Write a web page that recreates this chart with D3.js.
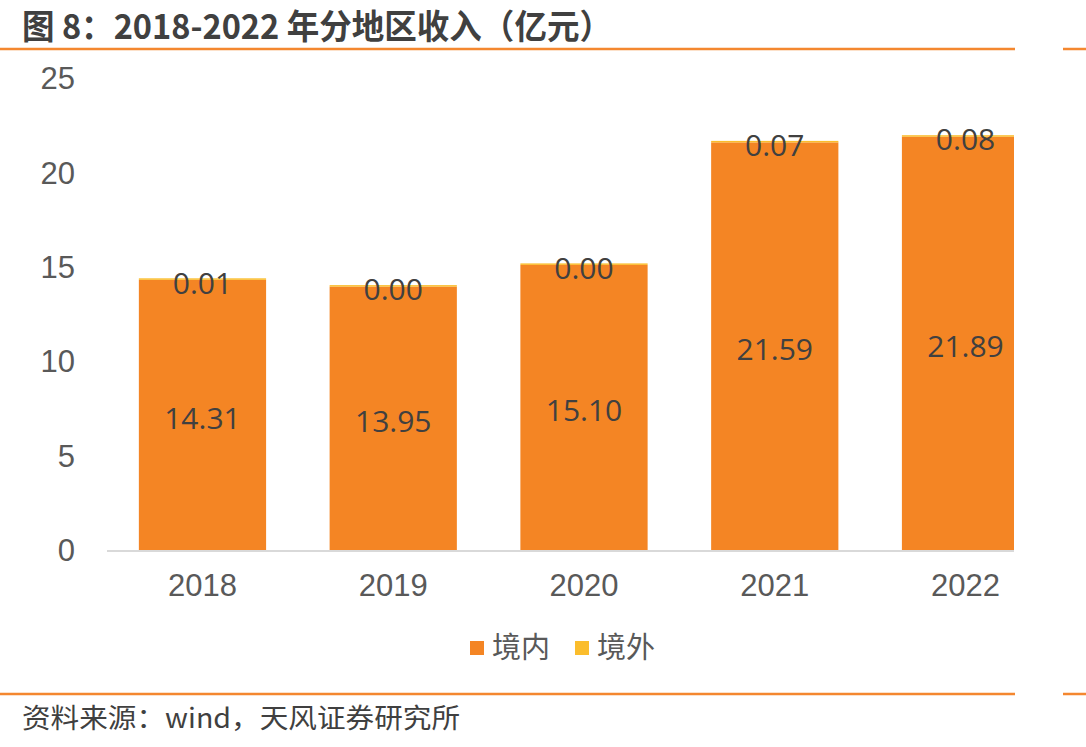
<!DOCTYPE html>
<html>
<head>
<meta charset="utf-8">
<script src="https://cdn.jsdelivr.net/npm/d3@7"></script>
<style>
  body { margin: 0; background: #fff; }
  svg { display: block; }
</style>
</head>
<body>
<div id="chart"></div>
<script>
// data
var years = ["2018", "2019", "2020", "2021", "2022"];
var domestic = [14.31, 13.95, 15.10, 21.59, 21.89];
var overseas = [0.01, 0.00, 0.00, 0.07, 0.08];
var seriesNames = ["境内", "境外"];
var yTicks = [0, 5, 10, 15, 20, 25];

var width = 1086, height = 747;
var colors = ["#F48524", "#FBBD2C"];
var cjk = "'Noto Sans CJK SC', sans-serif";

var svg = d3.select("#chart").append("svg")
  .attr("width", width).attr("height", height);

// title + orange rules
svg.append("text")
  .attr("x", 22).attr("y", 39)
  .attr("textLength", 590).attr("lengthAdjust", "spacingAndGlyphs")
  .style("font-family", cjk).style("font-size", "34px").style("font-weight", "bold")
  .style("fill", "#404040")
  .text("图 8：2018-2022 年分地区收入（亿元）");

[49, 694].forEach(function (y) {
  svg.append("line").attr("x1", 0).attr("x2", 1015).attr("y1", y).attr("y2", y)
    .style("stroke", "#F4872F").style("stroke-width", 2.5);
  svg.append("line").attr("x1", 1063).attr("x2", 1086).attr("y1", y).attr("y2", y)
    .style("stroke", "#F4872F").style("stroke-width", 2.5);
});

svg.append("text")
  .attr("x", 22).attr("y", 728)
  .attr("textLength", 438).attr("lengthAdjust", "spacingAndGlyphs")
  .style("font-family", cjk).style("font-size", "27px")
  .style("fill", "#404040")
  .text("资料来源：wind，天风证券研究所");

// scales
var x = d3.scaleBand().domain(years).range([107, 1061]).paddingInner(0.333).paddingOuter(0.167);
var y = d3.scaleLinear().domain([0, 25]).range([550, 78]);

svg.append("clipPath").attr("id", "clip")
  .append("rect").attr("x", 0).attr("y", 0).attr("width", 1014).attr("height", height);

// y axis labels
svg.append("g").selectAll("text").data(yTicks).enter().append("text")
  .attr("x", 75).attr("y", function (d) { return y(d); })
  .attr("dy", "0.36em").attr("text-anchor", "end")
  .style("font-family", "'Liberation Sans', Arial, sans-serif").style("font-size", "31px")
  .style("fill", "#595959")
  .text(function (d) { return d; });

var stackData = years.map(function (yr, i) {
  return { year: yr, "境内": domestic[i], "境外": overseas[i] };
});
var stacked = d3.stack().keys(seriesNames)(stackData);

var plot = svg.append("g").attr("clip-path", "url(#clip)");

plot.selectAll(".series").data(stacked).enter().append("g")
  .attr("class", "series")
  .style("fill", function (d, i) { return colors[i]; })
  .selectAll("rect").data(function (d) { return d; }).enter().append("rect")
  .attr("x", function (d) { return x(d.data.year); })
  .attr("width", x.bandwidth())
  .attr("y", function (d) { return Math.min(y(d[1]), y(d[0]) - 1.5); })
  .attr("height", function (d) { return Math.max(y(d[0]) - y(d[1]), 1.5); });

// x axis line
plot.append("line").attr("x1", 107).attr("x2", 1014).attr("y1", 551).attr("y2", 551)
  .style("stroke", "#D9D9D9").style("stroke-width", 2);

// x labels
svg.append("g").selectAll("text").data(years).enter().append("text")
  .attr("x", function (d) { return x(d) + x.bandwidth() / 2; })
  .attr("y", 585).attr("dy", "0.36em").attr("text-anchor", "middle")
  .style("font-family", "'Liberation Sans', Arial, sans-serif").style("font-size", "31px")
  .style("fill", "#595959")
  .text(function (d) { return d; });

// value labels
stacked.forEach(function (s) {
  svg.append("g").selectAll("text").data(s).enter().append("text")
    .attr("x", function (d) { return x(d.data.year) + x.bandwidth() / 2; })
    .attr("y", function (d) { return y((d[0] + d[1]) / 2) + 3; })
    .attr("dy", "0.36em").attr("text-anchor", "middle")
    .style("font-family", "'Open Sans', sans-serif").style("font-size", "30px")
    .style("fill", "#404040")
    .text(function (d) { return (d[1] - d[0]).toFixed(2); });
});

// legend
var legend = svg.append("g");
var lx = [470, 575];
seriesNames.forEach(function (name, i) {
  legend.append("rect").attr("x", lx[i]).attr("y", 641).attr("width", 14).attr("height", 14)
    .style("fill", colors[i]);
  legend.append("text").attr("x", lx[i] + 22).attr("y", 648).attr("dy", "0.36em")
    .style("font-family", cjk).style("font-size", "29px").style("fill", "#595959")
    .text(name);
});
</script>
</body>
</html>
